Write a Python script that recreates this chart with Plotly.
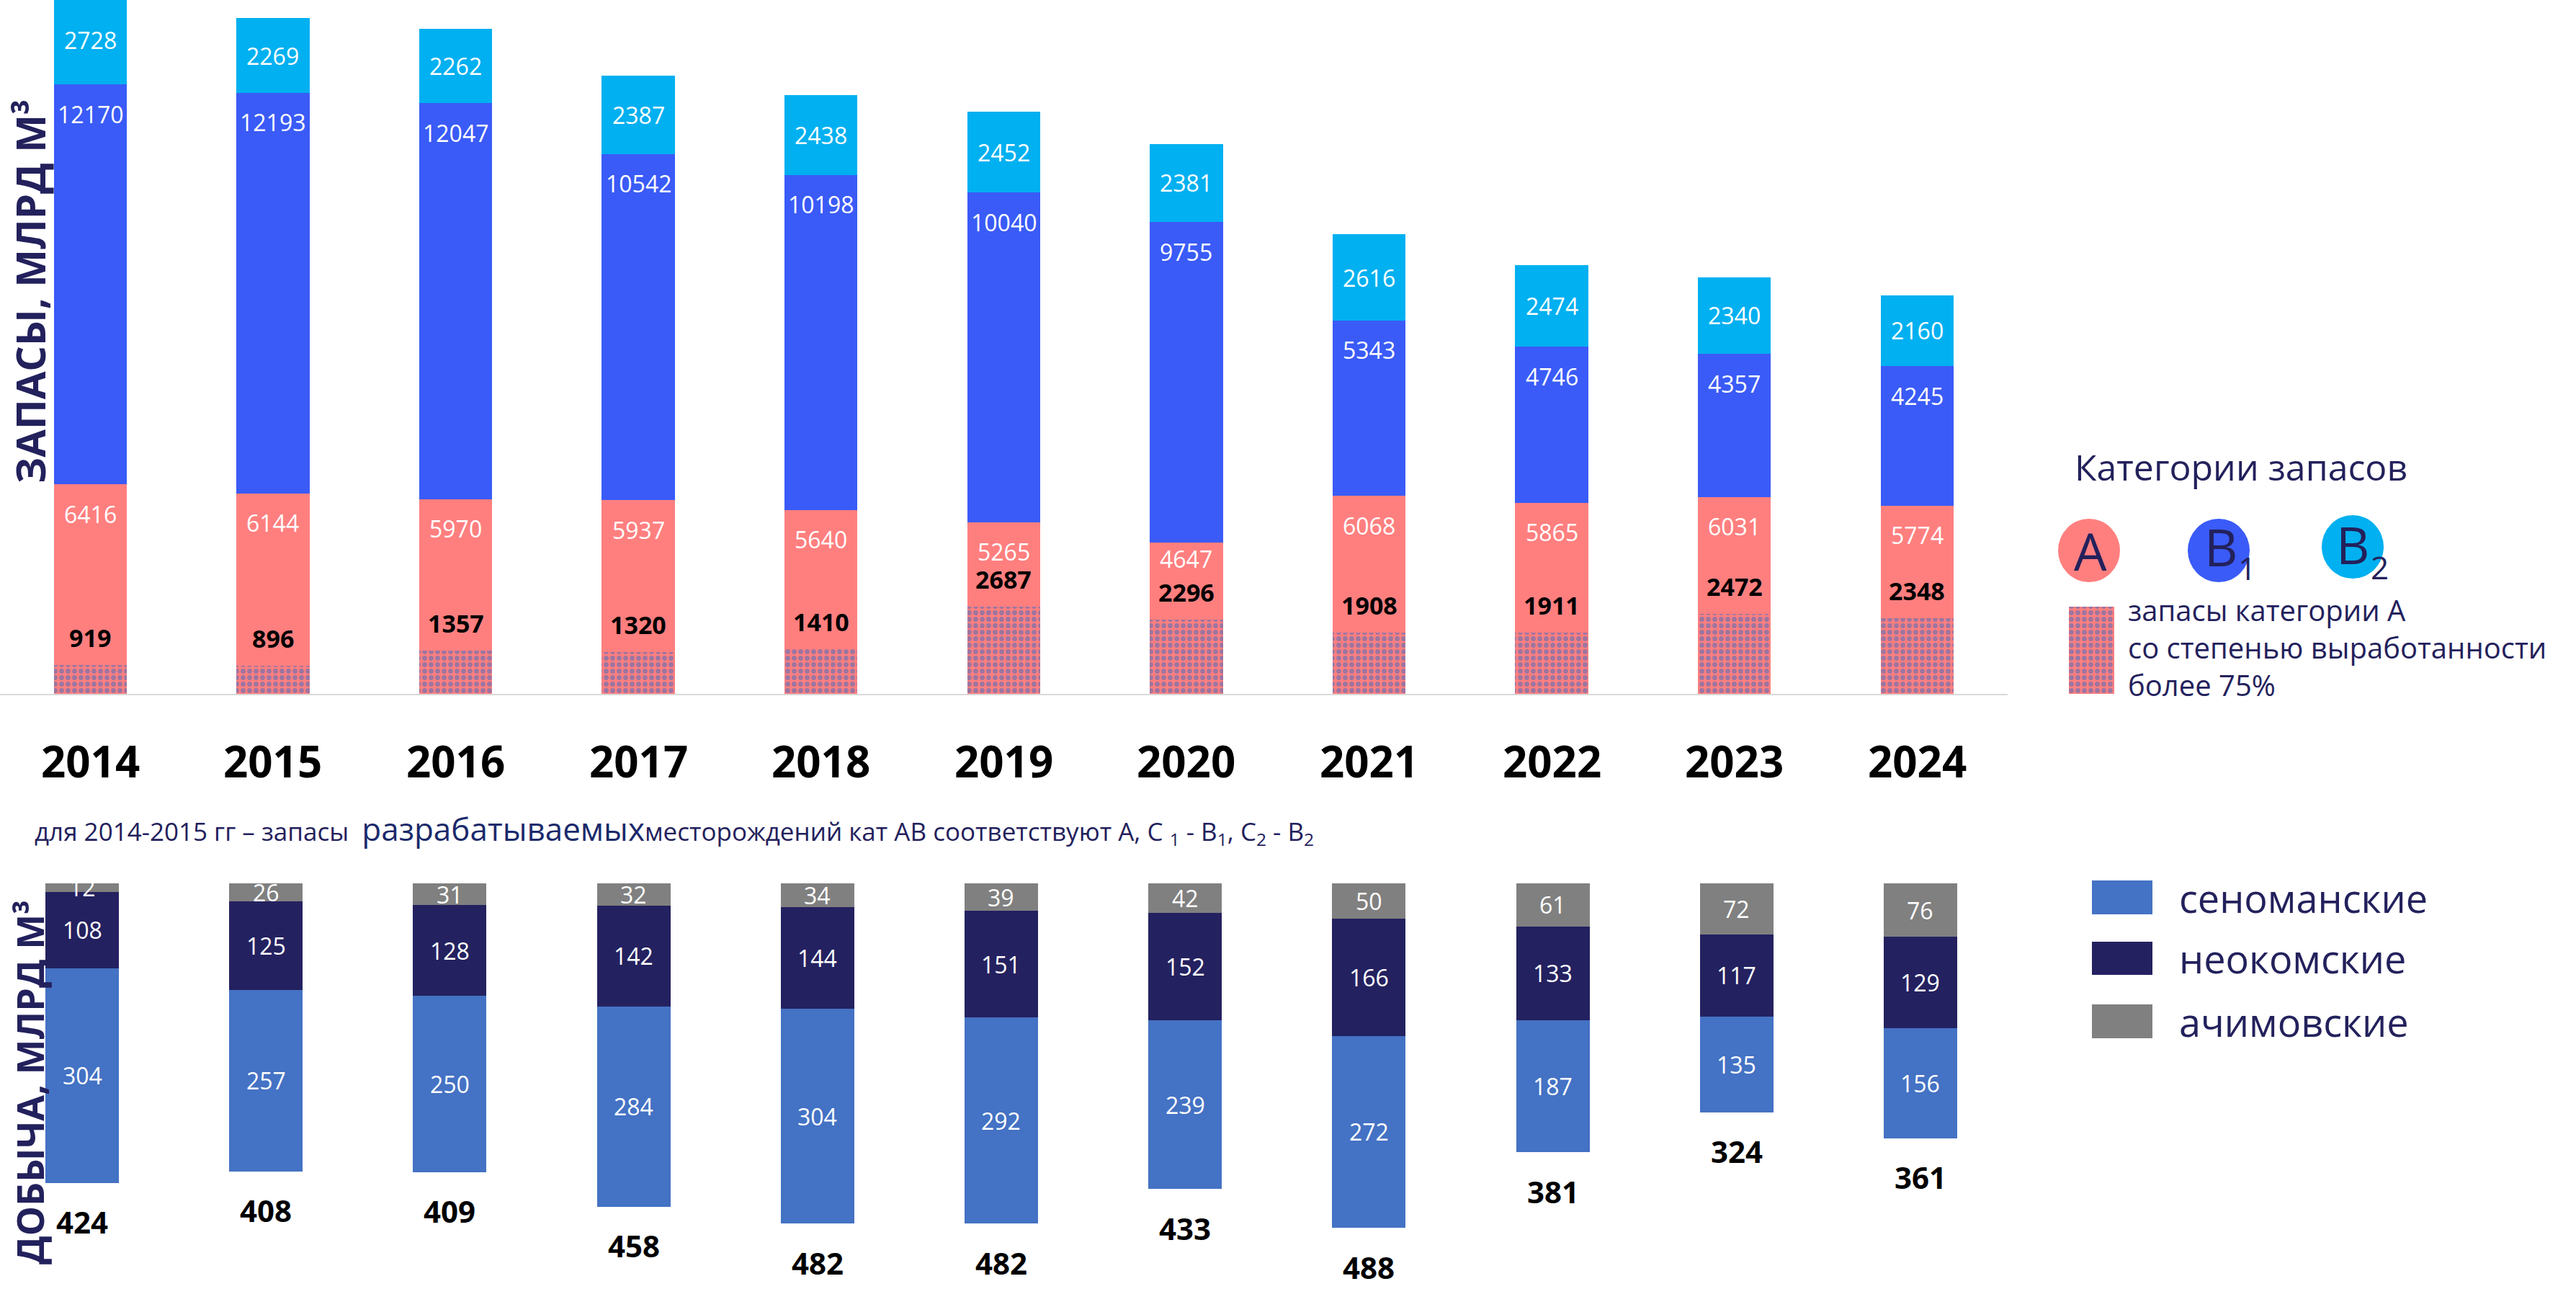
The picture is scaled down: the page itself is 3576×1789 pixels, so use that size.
import plotly.graph_objects as go

# ---------------- data ----------------
years = ['2014', '2015', '2016', '2017', '2018', '2019', '2020', '2021', '2022', '2023', '2024']

# reserves, bcm
a_depleted = [919, 896, 1357, 1320, 1410, 2687, 2296, 1908, 1911, 2472, 2348]   # cat. A, depletion > 75%
a_total = [6416, 6144, 5970, 5937, 5640, 5265, 4647, 6068, 5865, 6031, 5774]
b1 = [12170, 12193, 12047, 10542, 10198, 10040, 9755, 5343, 4746, 4357, 4245]
b2 = [2728, 2269, 2262, 2387, 2438, 2452, 2381, 2616, 2474, 2340, 2160]

# production, bcm
cenoman = [304, 257, 250, 284, 304, 292, 239, 272, 187, 135, 156]
neocom = [108, 125, 128, 142, 144, 151, 152, 166, 133, 117, 129]
achim = [12, 26, 31, 32, 34, 39, 42, 50, 61, 72, 76]
prod_total = [424, 408, 409, 458, 482, 482, 433, 488, 381, 324, 361]

# ---------------- styles ----------------
W, H = 3576, 1789
FONT = "Open Sans, Noto Sans, DejaVu Sans, sans-serif"
salmon = '#FF7F7F'
b1c = '#3A5BF7'
b2c = '#00B0F0'
dotc = '#3B6CC4'
cenc = '#4472C4'
neoc = '#242160'
achc = '#808080'
navy = '#23215C'
BW = 0.4
TOP_SCALE = 0.0456   # px per bcm (reserves)

a_rest = [t - d for t, d in zip(a_total, a_depleted)]
pattern = dict(shape='.', fgcolor=dotc, bgcolor=salmon, size=9, solidity=0.45, fillmode='overlay')

fig = go.Figure()

# top: reserves
fig.add_bar(x=years, y=a_depleted, width=BW, xaxis='x', yaxis='y',
            marker=dict(color=salmon, line_width=0, pattern=pattern), hoverinfo='skip')
fig.add_bar(x=years, y=a_rest, width=BW, xaxis='x', yaxis='y',
            marker=dict(color=salmon, line_width=0), hoverinfo='skip')
fig.add_bar(x=years, y=b1, width=BW, xaxis='x', yaxis='y',
            marker=dict(color=b1c, line_width=0), hoverinfo='skip')
fig.add_bar(x=years, y=b2, width=BW, xaxis='x', yaxis='y',
            marker=dict(color=b2c, line_width=0), hoverinfo='skip')

# bottom: production (hanging down)
fig.add_bar(x=years, y=achim, width=BW, xaxis='x2', yaxis='y2',
            marker=dict(color=achc, line_width=0), hoverinfo='skip')
fig.add_bar(x=years, y=neocom, width=BW, xaxis='x2', yaxis='y2',
            marker=dict(color=neoc, line_width=0), hoverinfo='skip')
fig.add_bar(x=years, y=cenoman, width=BW, xaxis='x2', yaxis='y2',
            marker=dict(color=cenc, line_width=0), hoverinfo='skip')

# legend swatch with pattern (pixel overlay axes)
fig.add_scatter(x=[2872, 2935, 2935, 2872, 2872], y=[842, 842, 963, 963, 842],
                xaxis='x3', yaxis='y3', mode='lines', line=dict(width=0),
                fill='toself', fillcolor=salmon,
                fillpattern=dict(shape='.', fgcolor=dotc, bgcolor=salmon, size=9, solidity=0.45),
                hoverinfo='skip')

ann = []
shapes = []

# labels on bars (category index used as annotation x)
for i, yr in enumerate(years):
    top_b1 = a_total[i] + b1[i]
    ann.append(dict(x=i, y=top_b1 + b2[i] / 2, xref='x', yref='y', text=str(b2[i]),
                    font=dict(size=32, color='white', family=FONT), showarrow=False))
    ann.append(dict(x=i, y=top_b1, xref='x', yref='y', text=str(b1[i]), yshift=-41,
                    font=dict(size=32, color='white', family=FONT), showarrow=False))
    gap_px = (a_total[i] - a_depleted[i]) * TOP_SCALE
    a_shift = -41 if gap_px > 110 else -22
    ann.append(dict(x=i, y=a_total[i], xref='x', yref='y', text=str(a_total[i]), yshift=a_shift,
                    font=dict(size=32, color='white', family=FONT), showarrow=False))
    ann.append(dict(x=i, y=a_depleted[i], xref='x', yref='y', text='<b>%d</b>' % a_depleted[i],
                    yshift=38, font=dict(size=34, color='black', family=FONT), showarrow=False))
    # year labels
    ann.append(dict(x=i, y=1056, xref='x', yref='y3', text='<b>%s</b>' % yr,
                    font=dict(size=60, color='black', family=FONT), showarrow=False))
    # production labels
    ann.append(dict(x=i, y=achim[i] / 2, xref='x2', yref='y2', text=str(achim[i]),
                    font=dict(size=32, color='white', family=FONT), showarrow=False))
    ann.append(dict(x=i, y=achim[i] + neocom[i] / 2, xref='x2', yref='y2', text=str(neocom[i]),
                    font=dict(size=32, color='white', family=FONT), showarrow=False))
    ann.append(dict(x=i, y=achim[i] + neocom[i] + cenoman[i] / 2, xref='x2', yref='y2',
                    text=str(cenoman[i]), font=dict(size=32, color='white', family=FONT),
                    showarrow=False))
    ann.append(dict(x=i, y=prod_total[i], xref='x2', yref='y2', text='<b>%d</b>' % prod_total[i],
                    yshift=-54, font=dict(size=42, color='black', family=FONT), showarrow=False))

# axis titles
ann.append(dict(x=41, y=405, xref='x3', yref='y3', text='<b>ЗАПАСЫ, МЛРД М³</b>', textangle=-90,
                font=dict(size=56, color=navy, family=FONT), showarrow=False))
ann.append(dict(x=40, y=1502, xref='x3', yref='y3', text='<b>ДОБЫЧА, МЛРД М³</b>', textangle=-90,
                font=dict(size=52, color=navy, family=FONT), showarrow=False))

# footnote
ann.append(dict(x=46, y=1150, xref='x3', yref='y3', xanchor='left', showarrow=False,
                text=("для 2014-2015 гг – запасы  <span style='font-size:44px;color:#1B2A6B'>"
                      "разрабатываемых</span>месторождений кат АВ соответствуют А, С <sub>1</sub> - "
                      "В<sub>1</sub>, С<sub>2</sub> - В<sub>2</sub>"),
                font=dict(size=35, color=navy, family=FONT)))

# reserves legend
ann.append(dict(x=2878, y=648, xref='x3', yref='y3', xanchor='left', text='Категории запасов',
                font=dict(size=50, color=navy, family=FONT), showarrow=False))
for cx, cy, col in [(2900, 764, salmon), (3080, 764, b1c), (3266, 759, b2c)]:
    shapes.append(dict(type='circle', xref='x3', yref='y3', x0=cx - 43, x1=cx + 43,
                       y0=cy - 44, y1=cy + 44, fillcolor=col, line_width=0, layer='below'))
ann.append(dict(x=2902, y=764, xref='x3', yref='y3', text='A',
                font=dict(size=72, color=navy, family=FONT), showarrow=False))
ann.append(dict(x=3083, y=758, xref='x3', yref='y3', text='B',
                font=dict(size=72, color=navy, family=FONT), showarrow=False))
ann.append(dict(x=3119, y=788, xref='x3', yref='y3', text='1',
                font=dict(size=44, color=navy, family=FONT), showarrow=False))
ann.append(dict(x=3266, y=755, xref='x3', yref='y3', text='B',
                font=dict(size=72, color=navy, family=FONT), showarrow=False))
ann.append(dict(x=3303, y=787, xref='x3', yref='y3', text='2',
                font=dict(size=44, color=navy, family=FONT), showarrow=False))
ann.append(dict(x=2952, y=898, xref='x3', yref='y3', xanchor='left', align='left',
                text='запасы категории А<br>со степенью выработанности<br>более 75%',
                font=dict(size=40, color=navy, family=FONT), showarrow=False))

# production legend
for (txt, col, y0, y1) in [('сеноманские', cenc, 1222, 1269), ('неокомские', neoc, 1307, 1353),
                           ('ачимовские', achc, 1394, 1441)]:
    shapes.append(dict(type='rect', xref='x3', yref='y3', x0=2904, x1=2988, y0=y0, y1=y1,
                       fillcolor=col, line_width=0))
    ann.append(dict(x=3023, y=(y0 + y1) / 2, xref='x3', yref='y3', xanchor='left', text=txt,
                    font=dict(size=54, color=navy, family=FONT), showarrow=False))

# baseline of reserves chart
shapes.append(dict(type='line', xref='x3', yref='y', x0=0, x1=2787, y0=0, y1=0,
                   line=dict(color='#D9D9D9', width=4)))

top_px = 965
bot_top_px = 1226
fig.update_layout(
    width=W, height=H, margin=dict(l=0, r=0, t=0, b=0),
    paper_bgcolor='white', plot_bgcolor='rgba(0,0,0,0)',
    barmode='stack', showlegend=False,
    xaxis=dict(domain=[0, 1], type='category', range=[-0.4945, 13.607], visible=False, anchor='y'),
    yaxis=dict(domain=[1 - top_px / H, 1], range=[0, top_px / TOP_SCALE], visible=False, anchor='x'),
    xaxis2=dict(domain=[0, 1], type='category', range=[-0.4467, 13.566], visible=False, anchor='y2'),
    yaxis2=dict(domain=[0, 1 - bot_top_px / H], range=[(H - bot_top_px) / 0.98, 0], visible=False,
                anchor='x2'),
    xaxis3=dict(domain=[0, 1], range=[0, W], visible=False, anchor='y3'),
    yaxis3=dict(domain=[0, 1], range=[H, 0], visible=False, anchor='x3'),
    annotations=ann, shapes=shapes,
    font=dict(family=FONT),
)

fig.write_html("out.html")
